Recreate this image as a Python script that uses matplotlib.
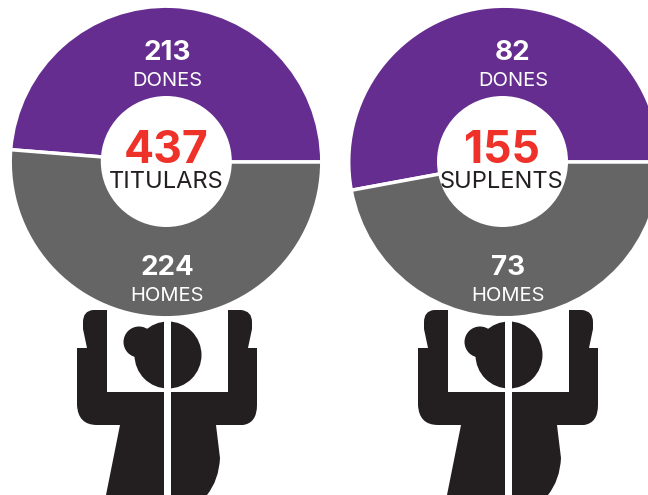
import matplotlib
matplotlib.use('Agg')
import matplotlib.pyplot as plt
from matplotlib.patches import Circle, PathPatch, Rectangle
from matplotlib.path import Path

plt.rcParams['font.family'] = ['Inter', 'DejaVu Sans']

# values
groups = ['TITULARS', 'SUPLENTS']
totals = [437, 155]
dones = [213, 82]
homes = [224, 73]
part_labels = ['DONES', 'HOMES']

PURPLE = '#652d90'
GREY = '#656565'
RED = '#ee3129'
DARK = '#231f20'

W, H = 648, 495
M, L, C = Path.MOVETO, Path.LINETO, Path.CURVE3

# pictogram outline in pixels, y down, for the left figure
body = [
    (M, 107, 310), (L, 93, 310), (C, 83, 311), (C, 83, 322), (L, 83, 329), (L, 87, 348),
    (L, 77, 348), (L, 77, 405), (C, 78, 425), (C, 97, 425), (L, 120, 425), (L, 106, 495),
    (L, 207, 495), (C, 219, 480), (C, 220, 458), (L, 216, 425), (L, 243, 425),
    (C, 257, 423), (C, 257, 405), (L, 257, 348), (L, 248, 348), (L, 252, 329),
    (L, 252, 322), (C, 252, 311), (C, 241, 310), (L, 228, 310), (L, 228, 392),
    (L, 107, 392), (L, 107, 310),
]


def draw_figure(ax, dx):
    verts = [(x + dx, H - y) for _, x, y in body]
    codes = [c for c, _, _ in body]
    ax.add_patch(PathPatch(Path(verts, codes), fc=DARK, ec='none', zorder=1))
    ax.add_patch(Circle((168 + dx, H - 355), 33.5, fc=DARK, ec='none', zorder=1))
    ax.add_patch(Circle((139 + dx, H - 342), 15.5, fc=DARK, ec='none', zorder=1))
    ax.add_patch(Circle((150 + dx, H - 345), 13, fc=DARK, ec='none', zorder=1))
    ax.add_patch(Rectangle((164 + dx, 0), 6.5, H - 320, fc='white', ec='none', zorder=2))


fig = plt.figure(figsize=(W / 100, H / 100), dpi=100)
ax = fig.add_axes([0, 0, 1, 1])

centers = [166, 504.5]
hole_x = [166.3, 502.5]
offsets = [0, 341]
dones_x = [167, 513]
homes_x = [167, 508]
total_x = [165.7, 501.5]

for i in range(len(groups)):
    cx = centers[i]
    cy = H - 162
    draw_figure(ax, offsets[i])
    ax.pie([dones[i], homes[i]], colors=[PURPLE, GREY], startangle=0, counterclock=True,
           center=(cx, cy), radius=155.8, wedgeprops=dict(edgecolor='white', linewidth=2.5))
    ax.add_patch(Circle((hole_x[i], H - 161.5), 65.5, fc='white', ec='none', zorder=5))

    ax.text(dones_x[i], H - 60, str(dones[i]), color='white', fontsize=20, fontweight='bold', ha='center', va='baseline', zorder=6)
    ax.text(dones_x[i], H - 86, part_labels[0], color='white', fontsize=14.5, ha='center', va='baseline', zorder=6)
    ax.text(homes_x[i], H - 275, str(homes[i]), color='white', fontsize=20, fontweight='bold', ha='center', va='baseline', zorder=6)
    ax.text(homes_x[i], H - 301, part_labels[1], color='white', fontsize=14.5, ha='center', va='baseline', zorder=6)
    ax.text(total_x[i], H - 163, str(totals[i]), color=RED, fontsize=32, fontweight='bold', ha='center', va='baseline', zorder=6)
    ax.text(total_x[i], H - 188, groups[i], color=DARK, fontsize=17, ha='center', va='baseline', zorder=6)

ax.set_xlim(0, W)
ax.set_ylim(0, H)
ax.set_aspect('auto')
ax.axis('off')

fig.savefig('out.png', dpi=100)
